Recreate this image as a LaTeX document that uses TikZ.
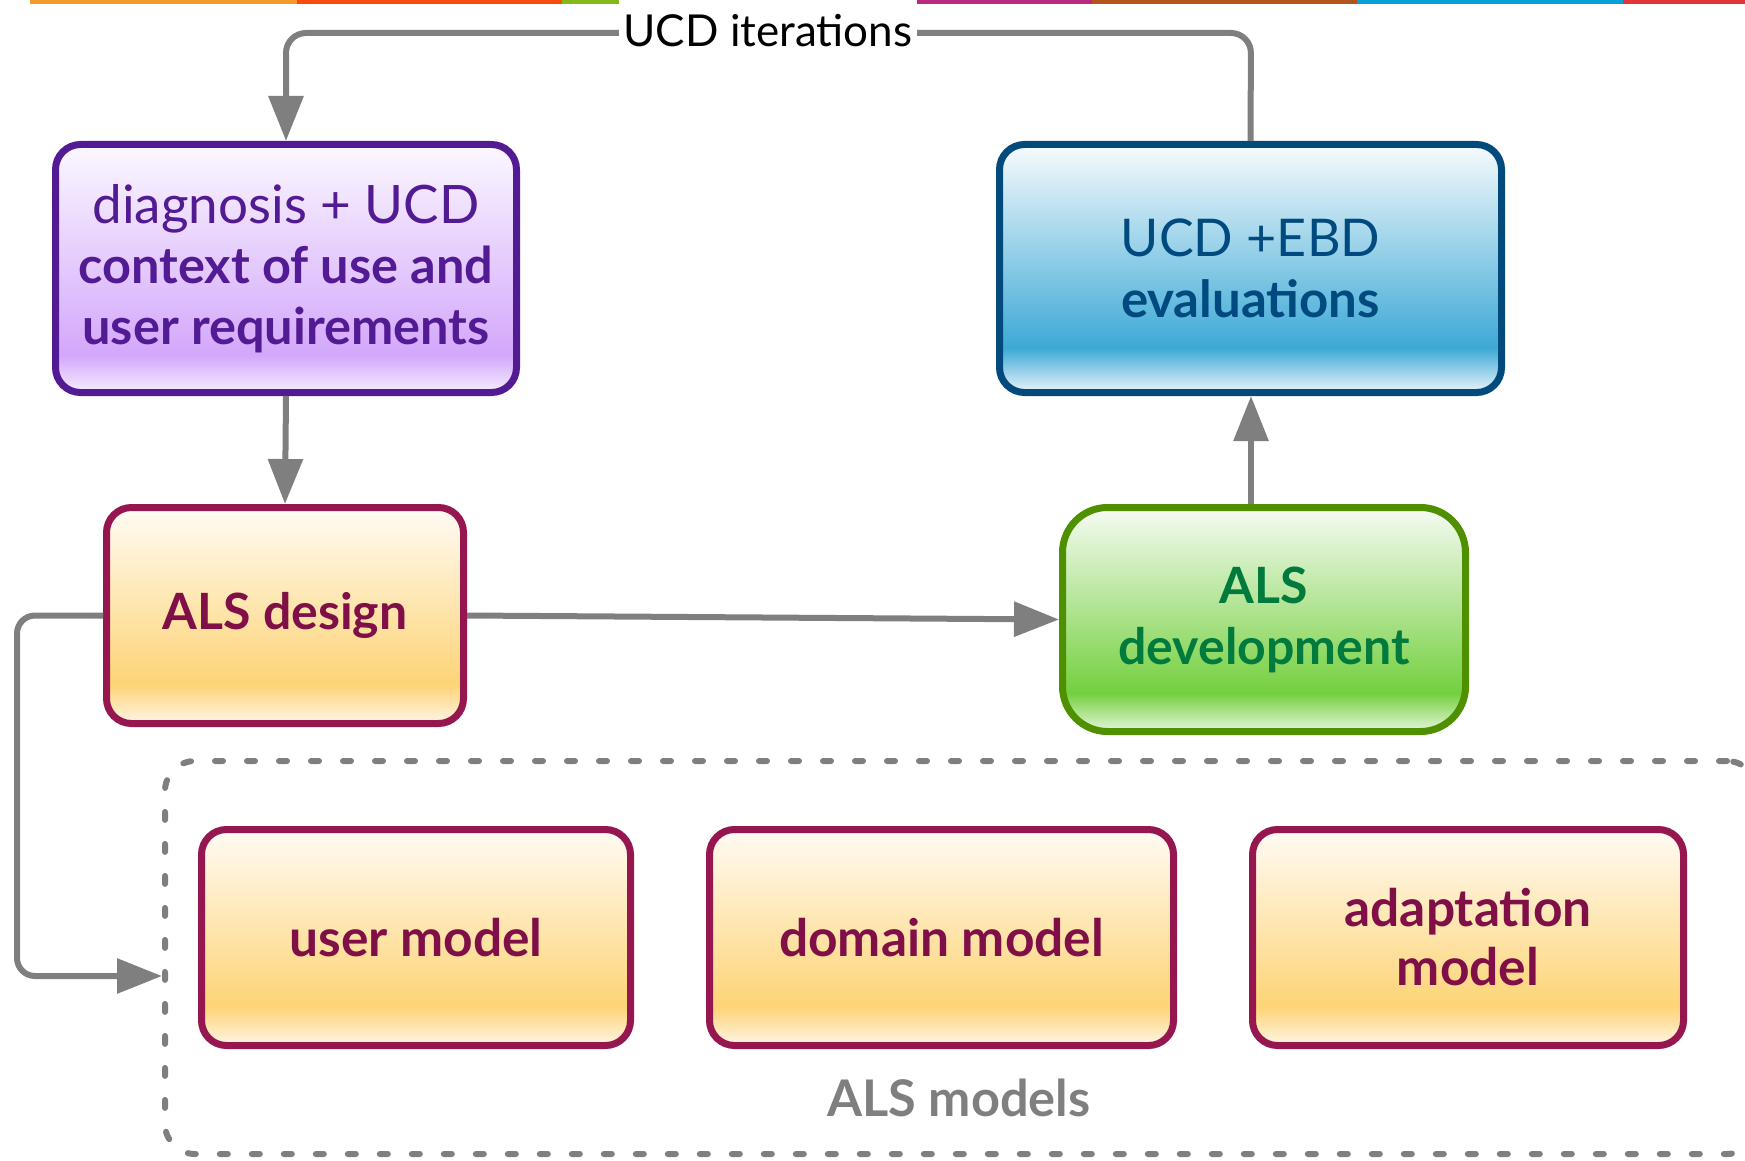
\documentclass[tikz,border=0pt]{standalone}
\usepackage{fontspec}
\setmainfont{Lato}
\usetikzlibrary{arrows.meta}
\definecolor{lnk}{HTML}{7F7F7F}
\definecolor{purB}{HTML}{531B93}
\definecolor{purT}{HTML}{FBF8FF}
\definecolor{purM}{HTML}{D3A7FB}
\definecolor{purD}{HTML}{F6EEFE}
\definecolor{bluB}{HTML}{024A7B}
\definecolor{bluX}{HTML}{004A80}
\definecolor{bluT}{HTML}{F7FBFD}
\definecolor{bluM}{HTML}{3DA9D6}
\definecolor{bluD}{HTML}{EAF5FA}
\definecolor{orgB}{HTML}{96174F}
\definecolor{orgX}{HTML}{800F48}
\definecolor{orgT}{HTML}{FFFBF4}
\definecolor{orgM}{HTML}{FDD476}
\definecolor{orgD}{HTML}{FFF6E6}
\definecolor{grnB}{HTML}{4F9000}
\definecolor{grnX}{HTML}{007A3D}
\definecolor{grnT}{HTML}{F6FBF3}
\definecolor{grnM}{HTML}{74D03F}
\definecolor{grnD}{HTML}{E6F6DC}
\pgfdeclareverticalshading{shpur}{100bp}{color(0bp)=(purD); color(25bp)=(purD); color(32.5bp)=(purM); color(75bp)=(purT); color(100bp)=(purT)}
\pgfdeclareverticalshading{shblu}{100bp}{color(0bp)=(bluD); color(25bp)=(bluD); color(34bp)=(bluM); color(75bp)=(bluT); color(100bp)=(bluT)}
\pgfdeclareverticalshading{shorg}{100bp}{color(0bp)=(orgD); color(25bp)=(orgD); color(34bp)=(orgM); color(75bp)=(orgT); color(100bp)=(orgT)}
\pgfdeclareverticalshading{shgrn}{100bp}{color(0bp)=(grnD); color(25bp)=(grnD); color(33.5bp)=(grnM); color(75bp)=(grnT); color(100bp)=(grnT)}
\tikzset{
  box/.style={draw, line width=7pt, rounded corners=25pt, align=center, inner sep=0pt},
  purbox/.style={box, draw=purB, shading=shpur, text=purB},
  blubox/.style={box, draw=bluB, shading=shblu, text=bluX},
  orgbox/.style={box, draw=orgB, shading=shorg, text=orgX, font=\fontsize{51.5}{59}\selectfont\bfseries},
  grnbox/.style={box, draw=grnB, shading=shgrn, text=grnX, rounded corners=45pt, font=\fontsize{50}{61}\selectfont\bfseries},
  conn/.style={draw=lnk, line width=6pt},
  arr/.style={conn, -{Triangle[length=45pt,width=34pt]}},
}
\begin{document}
\begin{tikzpicture}[x=1pt,y=-1pt]
\useasboundingbox (0,0) rectangle (1745,1161);
\clip (0,0) rectangle (1745,1161);
% top colour bar
\fill[fill={rgb,255:red,243;green,154;blue,43}] (30,0) rectangle (297,4);
\fill[fill={rgb,255:red,250;green,74;blue,14}] (297,0) rectangle (562,4);
\fill[fill={rgb,255:red,132;green,184;blue,24}] (562,0) rectangle (825,4);
\fill[fill={rgb,255:red,184;green,41;blue,127}] (825,0) rectangle (1092,4);
\fill[fill={rgb,255:red,181;green,84;blue,26}] (1092,0) rectangle (1357,4);
\fill[fill={rgb,255:red,5;green,161;blue,216}] (1357,0) rectangle (1623,4);
\fill[fill={rgb,255:red,227;green,52;blue,58}] (1623,0) rectangle (1745,4);

% boxes
\node[purbox, minimum width=461pt, minimum height=248pt, font=\fontsize{50.5}{60.5}\selectfont] (diag) at (286,268.5)
  {{\fontsize{53}{60.5}\selectfont diagnosis + UCD}\\ \bfseries context of use and\\ \bfseries user requirements};
\node[blubox, minimum width=502pt, minimum height=248pt, font=\fontsize{51}{61}\selectfont] (eval) at (1250.5,268.5)
  {{\fontsize{52}{61}\selectfont UCD +EBD}\\ \bfseries evaluations};
\node[orgbox, minimum width=357pt, minimum height=216pt, font=\fontsize{50}{60}\selectfont\bfseries] (design) at (285,615.5) {ALS design};
\node[grnbox, minimum width=403pt, minimum height=224pt] (dev) at (1264,619.5) {ALS\\development};

% models container
\node[draw=lnk, line width=6pt, dash pattern=on 8pt off 24pt, line cap=round, rounded corners=30pt,
      minimum width=1592pt, minimum height=393pt, inner sep=0pt] (models) at (961,957.5) {};
\node[text=lnk, font=\fontsize{50.5}{60}\selectfont\bfseries, inner sep=0pt] (modlbl) at (959,1098) {ALS models};
\node[orgbox, minimum width=429pt, minimum height=216pt] (um) at (416,937.5) {user model};
\node[orgbox, minimum width=464pt, minimum height=216pt] (dm) at (941.5,937.5) {domain model};
\node[orgbox, minimum width=431pt, minimum height=216pt] (am) at (1468,937.5) {adaptation\\model};

% connectors
\coordinate (topr) at (1251,33);
\coordinate (topl) at (286,33);
\draw[arr, rounded corners=20pt] (eval.north) -- (topr) -- (topl) -- (diag.north);
\node[fill=white, inner xsep=5pt, inner ysep=0pt, minimum height=64pt, font=\fontsize{44}{50}\selectfont] (iter) at (768,31) {UCD iterations};
\draw[arr] (diag.south) -- (design.north);
\draw[arr] (design.east) -- (dev.west);
\coordinate (devtop) at (1251,504);
\draw[arr] (devtop) -- (eval.south -| devtop);
\coordinate (l1) at (17,615.5);
\coordinate (l2) at (17,976);
\coordinate (l3) at (162,976);
\draw[arr, rounded corners=18pt] (design.west) -- (l1) -- (l2) -- (l3);
\end{tikzpicture}
\end{document}
